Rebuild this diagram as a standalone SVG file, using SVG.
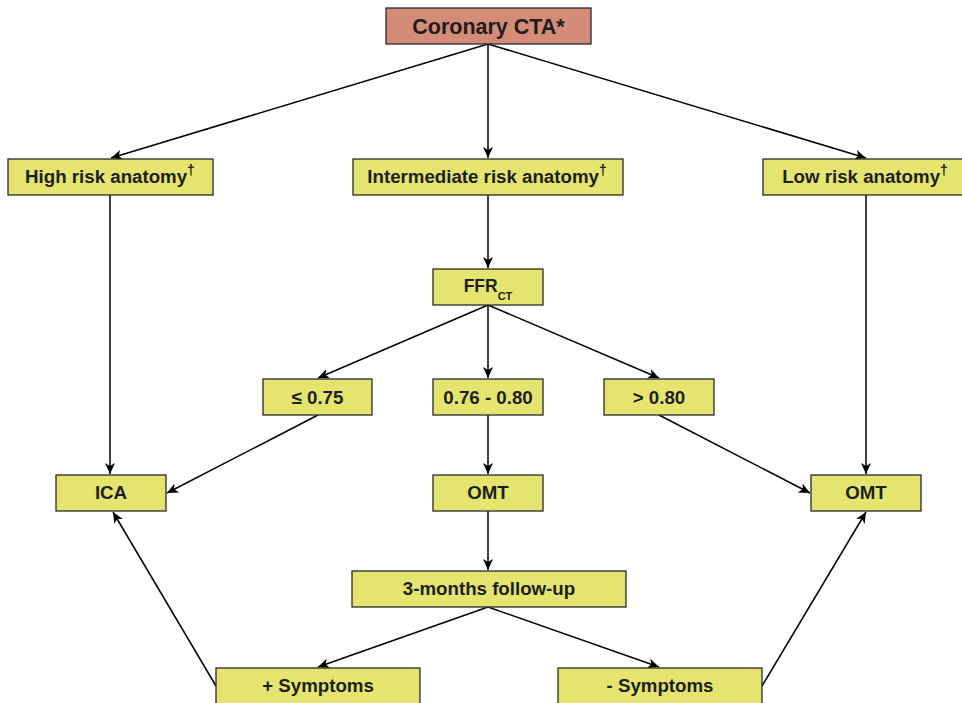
<svg xmlns="http://www.w3.org/2000/svg" width="962" height="703" viewBox="0 0 962 703">
<defs>
<style>
.box{fill:#e4e46e;stroke:#2a2a2a;stroke-width:1.3}
.top{fill:#d48b78;stroke:#2a2a2a;stroke-width:1.3}
.t{font-family:"Liberation Sans",Arial,sans-serif;font-weight:bold;font-size:18.7px;fill:#1e1e1e;text-anchor:middle}
.c line{stroke:#000;stroke-width:1.5;fill:none;marker-end:url(#ah)}
</style>
<marker id="ah" markerWidth="12" markerHeight="10" refX="11" refY="5" orient="auto" markerUnits="userSpaceOnUse">
<path d="M0,0 L11,5 L0,10 L3,5 Z" fill="#000"/>
</marker>
</defs>
<rect width="962" height="703" fill="#fff"/>
<g id="connectors" class="c">
<line x1="488" y1="44" x2="111" y2="158"/>
<line x1="488" y1="44" x2="488" y2="158"/>
<line x1="488" y1="44" x2="866" y2="158"/>
<line x1="110" y1="195" x2="110" y2="474"/>
<line x1="488" y1="195" x2="488" y2="268"/>
<line x1="866" y1="195" x2="866" y2="474"/>
<line x1="488" y1="305" x2="318" y2="378"/>
<line x1="488" y1="305" x2="488" y2="378"/>
<line x1="488" y1="305" x2="659" y2="378"/>
<line x1="318" y1="415" x2="167" y2="493"/>
<line x1="488" y1="415" x2="488" y2="474"/>
<line x1="659" y1="415" x2="810" y2="493"/>
<line x1="488" y1="511" x2="488" y2="570"/>
<line x1="488" y1="607" x2="318" y2="667"/>
<line x1="488" y1="607" x2="659" y2="667"/>
<line x1="216" y1="686" x2="113" y2="512"/>
<line x1="762" y1="686" x2="866" y2="512"/>
</g>
<g id="coronary-cta"><rect class="top" x="386" y="8" width="205" height="36"/><text class="t" x="488.5" y="34" style="font-size:21.5px">Coronary CTA*</text></g>
<g id="high-risk"><rect class="box" x="8" y="159" width="205" height="36"/><text class="t" x="110" y="183">High risk anatomy<tspan dy="-8" font-size="14">†</tspan></text></g>
<g id="intermediate-risk"><rect class="box" x="353" y="159" width="270" height="36"/><text class="t" x="487" y="183">Intermediate risk anatomy<tspan dy="-8" font-size="14">†</tspan></text></g>
<g id="low-risk"><rect class="box" x="763" y="159" width="205" height="36"/><text class="t" x="865" y="183">Low risk anatomy<tspan dy="-8" font-size="14">†</tspan></text></g>
<g id="ffr"><rect class="box" x="433" y="269" width="110" height="36"/><text class="t" x="488" y="292" style="font-size:17.5px">FFR<tspan dy="8" font-size="11">CT</tspan></text></g>
<g id="le075"><rect class="box" x="263" y="379" width="109" height="36"/><text class="t" x="317.5" y="404">≤ 0.75</text></g>
<g id="mid076"><rect class="box" x="433" y="379" width="110" height="36"/><text class="t" x="488" y="404">0.76 - 0.80</text></g>
<g id="gt080"><rect class="box" x="604" y="379" width="110" height="36"/><text class="t" x="659" y="404">&gt; 0.80</text></g>
<g id="ica"><rect class="box" x="56" y="475" width="110" height="36"/><text class="t" x="111" y="499">ICA</text></g>
<g id="omt-mid"><rect class="box" x="433" y="475" width="110" height="36"/><text class="t" x="488" y="499">OMT</text></g>
<g id="omt-right"><rect class="box" x="811" y="475" width="110" height="36"/><text class="t" x="866" y="499">OMT</text></g>
<g id="follow-up"><rect class="box" x="352" y="571" width="274" height="36"/><text class="t" x="489" y="595">3-months follow-up</text></g>
<g id="pos-symptoms"><rect class="box" x="216" y="668" width="204" height="40"/><text class="t" x="318" y="692">+ Symptoms</text></g>
<g id="neg-symptoms"><rect class="box" x="558" y="668" width="204" height="40"/><text class="t" x="660" y="692">- Symptoms</text></g>
</svg>
